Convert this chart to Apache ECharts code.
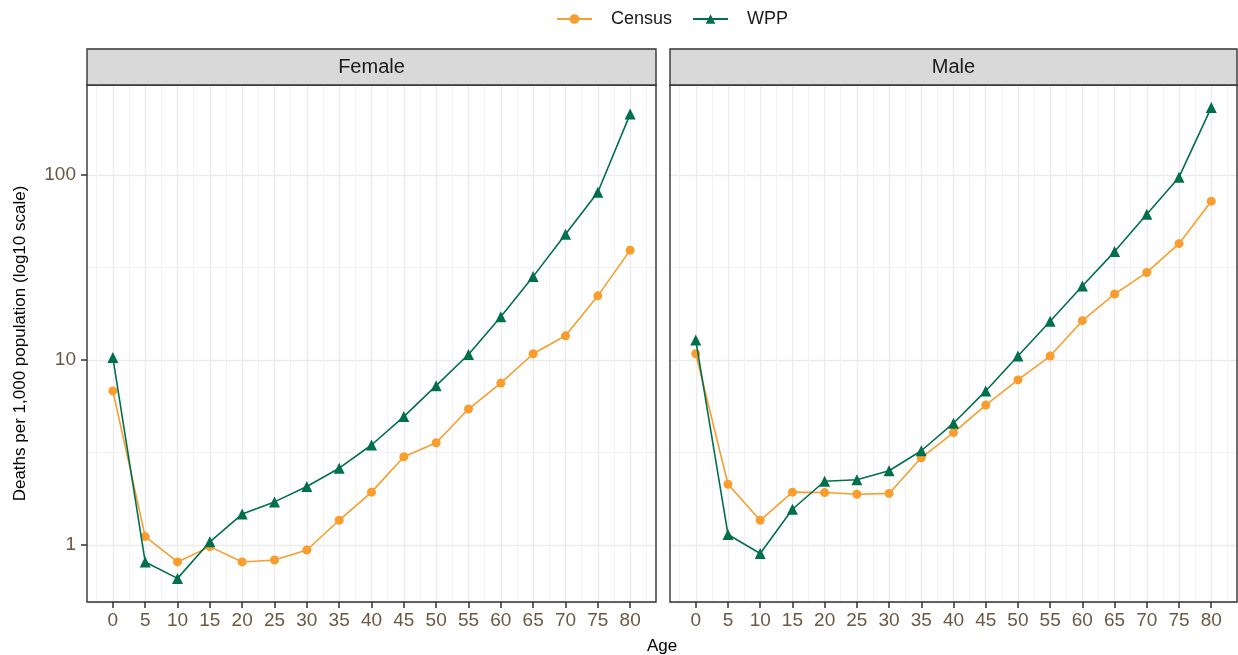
<!DOCTYPE html>
<html><head><meta charset="utf-8">
<script src="https://cdn.jsdelivr.net/npm/echarts@6/dist/echarts.min.js"></script>
<style>html,body{margin:0;padding:0;background:#fff}#c{width:1238px;height:655px}</style>
</head><body><div id="c"></div>
<script>
const ages = [0, 5, 10, 15, 20, 25, 30, 35, 40, 45, 50, 55, 60, 65, 70, 75, 80];
const panels = ['Female', 'Male'];
const seriesNames = ['Census', 'WPP'];
const femaleCensus = [6.8, 1.11, 0.81, 0.98, 0.81, 0.83, 0.94, 1.36, 1.93, 3.0, 3.57, 5.43, 7.5, 10.8, 13.5, 22.2, 39.2];
const femaleWPP    = [10.3, 0.81, 0.66, 1.04, 1.47, 1.71, 2.07, 2.6, 3.47, 4.94, 7.26, 10.7, 17.1, 28.2, 47.8, 80.6, 213];
const maleCensus   = [10.8, 2.13, 1.36, 1.93, 1.92, 1.88, 1.90, 2.96, 4.05, 5.7, 7.8, 10.5, 16.3, 22.7, 29.7, 42.5, 72.1];
const maleWPP      = [12.8, 1.14, 0.90, 1.56, 2.21, 2.25, 2.52, 3.23, 4.55, 6.8, 10.5, 16.2, 25.1, 38.5, 61.3, 97.2, 231];
const xTickLabels = [0, 5, 10, 15, 20, 25, 30, 35, 40, 45, 50, 55, 60, 65, 70, 75, 80];
const xMinorBreaks = [-2.5, 2.5, 7.5, 12.5, 17.5, 22.5, 27.5, 32.5, 37.5, 42.5, 47.5, 52.5, 57.5, 62.5, 67.5, 72.5, 77.5, 82.5];
const yMinorBreaks = [3.162, 31.62];
const xRange = [-4, 84];
const yRange = [0.492, 306];

const COLORS = { Census: '#F89D2E', WPP: '#00704C' };
const FONT = 'Arial, "Liberation Sans", sans-serif';
const TICK_COLOR = '#6b5742';

const chart = echarts.init(document.getElementById('c'), null, { renderer: 'canvas' });

const grids = [
  { left: 87, top: 85, width: 569, height: 517 },
  { left: 670, top: 85, width: 567, height: 517 }
];

const xAxes = grids.map((g, i) => ({
  type: 'value', gridIndex: i, min: xRange[0], max: xRange[1], position: 'bottom',
  axisLine: { show: false, onZero: false },
  axisTick: { show: true, inside: false, length: 6, customValues: xTickLabels, lineStyle: { color: '#333', width: 1.5 } },
  axisLabel: { show: true, customValues: xTickLabels, color: TICK_COLOR, fontSize: 19, fontFamily: FONT, margin: 9 },
  splitLine: { show: true, lineStyle: { color: '#EBEBEB', width: 1.3 } }
}));

const yAxes = grids.map((g, i) => ({
  type: 'log', logBase: 10, gridIndex: i, min: yRange[0], max: yRange[1],
  name: i === 0 ? 'Deaths per 1,000 population (log10 scale)' : '',
  nameLocation: 'middle', nameGap: 58,
  nameTextStyle: { fontSize: 17, fontFamily: FONT, color: '#000' },
  axisLine: { show: false, onZero: false },
  axisTick: { show: i === 0, length: 6, lineStyle: { color: '#333', width: 1.5 } },
  axisLabel: { show: i === 0, showMinLabel: false, showMaxLabel: false, color: TICK_COLOR, fontSize: 19, fontFamily: FONT, margin: 11 },
  splitLine: { show: true, lineStyle: { color: '#EBEBEB', width: 1.3 } }
}));

const panelData = [[femaleCensus, femaleWPP], [maleCensus, maleWPP]];
const series = [];
panelData.forEach((pair, gi) => {
  pair.forEach((vals, si) => {
    const name = seriesNames[si];
    const s = {
      name, type: 'line', xAxisIndex: gi, yAxisIndex: gi,
      data: ages.map((a, k) => [a, vals[k]]),
      symbol: si === 0 ? 'circle' : 'triangle',
      symbolSize: si === 0 ? 9 : 11,
      itemStyle: { color: COLORS[name] },
      lineStyle: { color: COLORS[name], width: 1.6 },
      z: 2 + si,
      silent: true,
      emphasis: { disabled: true }
    };
    if (si === 0) {
      s.markLine = {
        silent: true, symbol: 'none', z: 1, animation: false,
        label: { show: false },
        emphasis: { disabled: true },
        lineStyle: { color: '#F2F2F2', width: 1, type: 'solid' },
        data: xMinorBreaks.map(v => ({ xAxis: v })).concat(yMinorBreaks.map(v => ({ yAxis: v })))
      };
    }
    series.push(s);
  });
});

const graphics = [];
grids.forEach((g, i) => {
  // panel border drawn on top of grid lines
  graphics.push({
    type: 'rect', shape: { x: g.left, y: g.top, width: g.width, height: g.height },
    style: { fill: null, stroke: '#333', lineWidth: 1.4 }, z: 20, silent: true
  });
  graphics.push({
    type: 'rect', shape: { x: g.left, y: 49, width: g.width, height: 36 },
    style: { fill: '#D9D9D9', stroke: '#333', lineWidth: 1.4 }, z: 21
  });
  graphics.push({
    type: 'text', x: g.left + g.width / 2, y: 67,
    style: { text: panels[i], fontSize: 20, fontFamily: FONT, fill: '#1A1A1A', textAlign: 'center', textVerticalAlign: 'middle' }, z: 22
  });
});
graphics.push({
  type: 'text', x: 662, y: 646,
  style: { text: 'Age', fontSize: 17, fontFamily: FONT, fill: '#000', textAlign: 'center', textVerticalAlign: 'middle' }
});

chart.setOption({
  animation: false,
  backgroundColor: '#fff',
  legend: {
    data: seriesNames, left: 551, top: 5, itemWidth: 35, itemHeight: 12, itemGap: 20,
    textStyle: { fontSize: 18, fontFamily: FONT, color: '#1A1A1A', padding: [0, 0, 0, 14] },
    selectedMode: false
  },
  grid: grids.map(g => Object.assign({ show: false, containLabel: false }, g)),
  xAxis: xAxes,
  yAxis: yAxes,
  series,
  graphic: graphics
});
</script></body></html>
